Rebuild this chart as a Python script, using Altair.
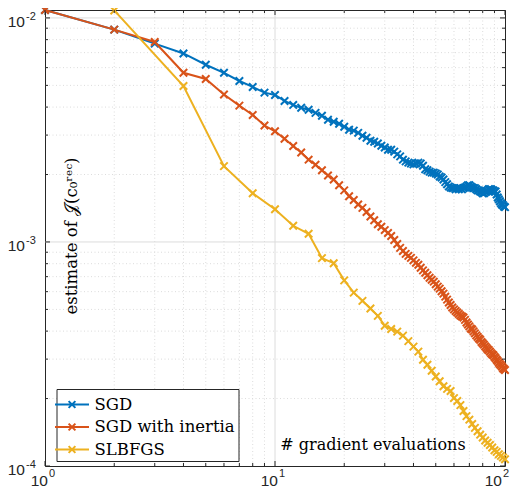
import altair as alt
import pandas as pd

# ---------------- data ----------------
methods = ["SGD", "SGD with inertia", "SLBFGS"]
colors = ["#0072BD", "#D95319", "#EDB120"]

evals_sgd = list(range(1, 101))
sgd_e3 = [10.85, 8.87, 7.68, 6.94, 6.18, 5.69, 5.23, 4.92, 4.64, 4.53,
          4.26, 4.09, 3.97, 3.89, 3.77, 3.66, 3.51, 3.44, 3.37, 3.27,
          3.17, 3.14, 3.07, 2.98, 2.92, 2.83, 2.80, 2.75, 2.69, 2.64,
          2.58, 2.58, 2.53, 2.46, 2.41, 2.33, 2.29, 2.26, 2.24, 2.22,
          2.24, 2.26, 2.24, 2.19, 2.11, 2.09, 2.06, 2.04, 2.04, 2.02,
          2.00, 1.96, 1.94, 1.90, 1.85, 1.81, 1.77, 1.75, 1.74, 1.74,
          1.72, 1.74, 1.72, 1.74, 1.72, 1.74, 1.75, 1.77, 1.79, 1.79,
          1.77, 1.75, 1.74, 1.74, 1.72, 1.70, 1.70, 1.68, 1.67, 1.65,
          1.65, 1.67, 1.68, 1.70, 1.72, 1.72, 1.72, 1.70, 1.70, 1.68,
          1.68, 1.63, 1.58, 1.55, 1.52, 1.49, 1.47, 1.46, 1.44, 1.43]

inertia_e3 = [10.85, 8.87, 7.81, 5.69, 5.34, 4.55, 4.06, 3.69, 3.31, 3.12,
              2.89, 2.68, 2.51, 2.33, 2.21, 2.09, 1.98, 1.90, 1.79, 1.70,
              1.60, 1.54, 1.47, 1.42, 1.36, 1.30, 1.25, 1.20, 1.17, 1.13,
              1.096, 1.063, 1.021, 0.980, 0.941, 0.912, 0.885, 0.867, 0.849, 0.828,
              0.807, 0.791, 0.767, 0.747, 0.729, 0.710, 0.692, 0.678, 0.665, 0.648,
              0.632, 0.619, 0.603, 0.588, 0.570, 0.553, 0.537, 0.523, 0.510, 0.500,
              0.492, 0.484, 0.477, 0.470, 0.465, 0.460, 0.449, 0.437, 0.428, 0.420,
              0.411, 0.407, 0.399, 0.391, 0.383, 0.377, 0.371, 0.366, 0.358, 0.353,
              0.348, 0.342, 0.337, 0.332, 0.329, 0.324, 0.319, 0.315, 0.312, 0.307,
              0.303, 0.298, 0.294, 0.289, 0.285, 0.282, 0.278, 0.273, 0.271, 0.268]

evals_slbfgs = list(range(2, 101, 2))
slbfgs_e3 = [10.80, 4.97, 2.18, 1.65, 1.40, 1.181, 1.088, 0.847, 0.804, 0.674,
             0.594, 0.546, 0.505, 0.468, 0.423, 0.409, 0.398, 0.382, 0.361, 0.341,
             0.324, 0.298, 0.283, 0.266, 0.251, 0.239, 0.227, 0.221, 0.216, 0.201,
             0.195, 0.187, 0.176, 0.167, 0.161, 0.154, 0.148, 0.143, 0.138, 0.134,
             0.130, 0.127, 0.124, 0.121, 0.1175, 0.1156, 0.1128, 0.1110, 0.1091, 0.1072]

x_major = [10]
x_minor = [2, 3, 4, 5, 6, 7, 8, 9, 20, 30, 40, 50, 60, 70, 80, 90]
x_tick_major = [1, 10, 100]
y_major = [1e-3, 1e-2]
y_minor = [2e-4, 3e-4, 4e-4, 5e-4, 6e-4, 7e-4, 8e-4, 9e-4,
           2e-3, 3e-3, 4e-3, 5e-3, 6e-3, 7e-3, 8e-3, 9e-3]
y_tick_major = [1e-4, 1e-3, 1e-2]
x_label_exp = ["0", "1", "2"]
y_label_exp = ["-4", "-3", "-2"]

# ---------------- build tables ----------------
rows = []
for n, v in zip(evals_sgd, sgd_e3):
    rows.append({"n": n, "v": v * 1e-3, "method": methods[0]})
for n, v in zip(evals_sgd, inertia_e3):
    rows.append({"n": n, "v": v * 1e-3, "method": methods[1]})
for n, v in zip(evals_slbfgs, slbfgs_e3):
    rows.append({"n": n, "v": v * 1e-3, "method": methods[2]})
df = pd.DataFrame(rows)

W, H = 460, 456
xs = alt.Scale(type="log", domain=[1, 100], nice=False)
ys = alt.Scale(type="log", domain=[1e-4, 1.085e-2], nice=False)
cs = alt.Scale(domain=methods, range=colors)

AX = "#262626"
GRID = "#dcdcdc"
XPATH = "M-1,-1L1,1M-1,1L1,-1"
LEGPATH = "M-1.5,0H1.5M-0.3,-0.3L0.3,0.3M-0.3,0.3L0.3,-0.3"

legend = alt.Legend(title=None, orient="none", legendX=11.5, legendY=379,
                    symbolType=LEGPATH, symbolSize=514, symbolStrokeWidth=2,
                    labelFont="DejaVu Serif", labelFontSize=16.5, labelColor="black",
                    labelOffset=10, padding=3, rowPadding=1.5, labelLimit=300,
                    strokeColor=AX, fillColor="white")

X = lambda f: alt.X(f, scale=xs, axis=None)
Y = lambda f: alt.Y(f, scale=ys, axis=None)

layers = []
# grid
layers.append(alt.Chart(pd.DataFrame({"v": x_minor})).mark_rule(
    color=GRID, strokeWidth=1, strokeDash=[1, 2.5]).encode(x=X("v:Q")))
layers.append(alt.Chart(pd.DataFrame({"v": y_minor})).mark_rule(
    color=GRID, strokeWidth=1, strokeDash=[1, 2.5]).encode(y=Y("v:Q")))
layers.append(alt.Chart(pd.DataFrame({"v": x_major})).mark_rule(
    color=GRID, strokeWidth=1).encode(x=X("v:Q")))
layers.append(alt.Chart(pd.DataFrame({"v": y_major})).mark_rule(
    color=GRID, strokeWidth=1).encode(y=Y("v:Q")))

# series
for m in methods:
    base = alt.Chart(df).transform_filter(alt.datum.method == m)
    enc = dict(x=X("n:Q"), y=Y("v:Q"),
               color=alt.Color("method:N", scale=cs, legend=legend))
    layers.append(base.mark_line(strokeWidth=2).encode(**enc))
    layers.append(base.mark_point(shape=XPATH, filled=False, size=56,
                                  strokeWidth=2, opacity=1).encode(**enc))

# inward ticks on all four sides
def xticks(vals, ln):
    d = pd.DataFrame({"v": vals})
    return [alt.Chart(d).mark_rule(color=AX, strokeWidth=1).encode(
                x=X("v:Q"), y=alt.value(H), y2=alt.value(H - ln)),
            alt.Chart(d).mark_rule(color=AX, strokeWidth=1).encode(
                x=X("v:Q"), y=alt.value(0), y2=alt.value(ln))]

def yticks(vals, ln):
    d = pd.DataFrame({"v": vals})
    return [alt.Chart(d).mark_rule(color=AX, strokeWidth=1).encode(
                y=Y("v:Q"), x=alt.value(0), x2=alt.value(ln)),
            alt.Chart(d).mark_rule(color=AX, strokeWidth=1).encode(
                y=Y("v:Q"), x=alt.value(W), x2=alt.value(W - ln))]

layers += xticks(x_tick_major, 5) + xticks(x_minor, 3)
layers += yticks(y_tick_major, 5) + yticks(y_minor, 3)

# tick labels 10^k
xl = pd.DataFrame({"v": x_tick_major, "b": ["10"] * 3, "e": x_label_exp})
xl_in = xl[xl["v"] < 100]
xl_end = xl[xl["v"] == 100]
for d, shift in ((xl_in, 0), (xl_end, -6)):
    layers.append(alt.Chart(d).mark_text(align="right", baseline="alphabetic",
        font="Liberation Sans", fontSize=15.5, color=AX, dx=3 + shift).encode(
        x=X("v:Q"), y=alt.value(H + 20), text="b:N"))
    layers.append(alt.Chart(d).mark_text(align="left", baseline="alphabetic",
        font="Liberation Sans", fontSize=11, color=AX, dx=4 + shift).encode(
        x=X("v:Q"), y=alt.value(H + 10.5), text="e:N"))

yl = pd.DataFrame({"v": y_tick_major, "b": ["10"] * 3, "e": y_label_exp})
layers.append(alt.Chart(yl).mark_text(align="right", baseline="alphabetic",
    font="Liberation Sans", fontSize=15.5, color=AX, dy=9).encode(
    y=Y("v:Q"), x=alt.value(-20), text="b:N"))
layers.append(alt.Chart(yl).mark_text(align="left", baseline="alphabetic",
    font="Liberation Sans", fontSize=11, color=AX, dy=2).encode(
    y=Y("v:Q"), x=alt.value(-19), text="e:N"))

# axis titles (placed inside the axes as in the reference)
one = alt.Data(values=[{}])
layers.append(alt.Chart(one).mark_text(angle=270, align="center", baseline="alphabetic",
    font="DejaVu Serif", fontSize=16.5, color="black").encode(
    x=alt.value(32), y=alt.value(226), text=alt.value("estimate of 𝒥(c₀ʳᵉᶜ)")))
layers.append(alt.Chart(one).mark_text(align="center", baseline="alphabetic",
    font="DejaVu Serif", fontSize=16, color="black").encode(
    x=alt.value(328), y=alt.value(440), text=alt.value("# gradient evaluations")))

chart = alt.layer(*layers).properties(
    width=W, height=H,
    autosize=alt.AutoSizeParams(type="none"),
    padding={"left": 37, "top": 2, "right": 6, "bottom": 23},
    background="white",
).configure_view(stroke=AX, strokeWidth=1)

chart.save("out.html", embed_options={"renderer": "svg", "actions": False})
